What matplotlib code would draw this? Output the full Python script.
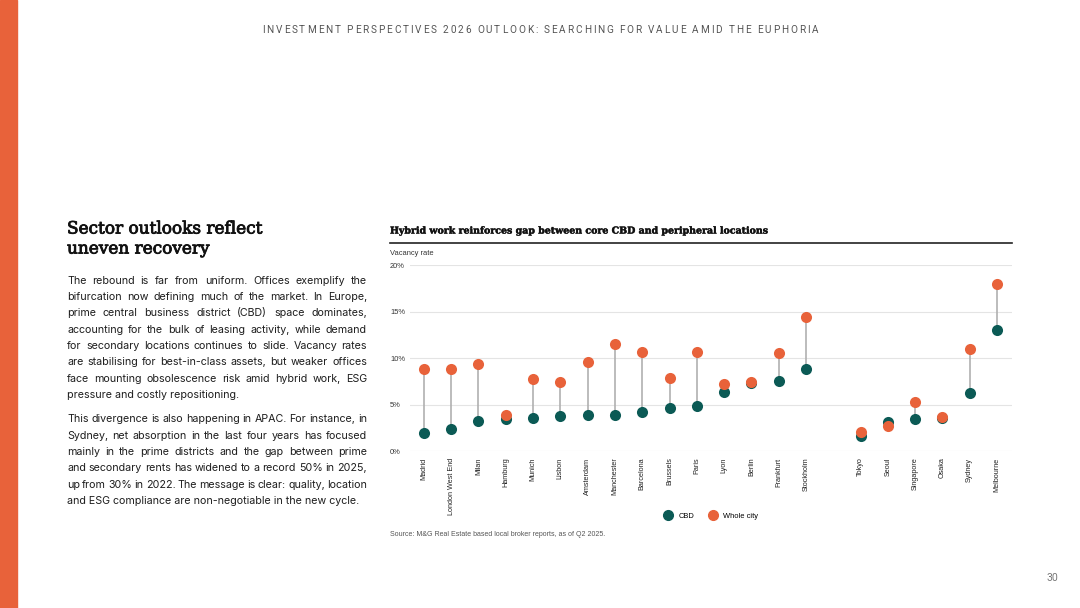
import numpy as np
import matplotlib.pyplot as plt
import matplotlib.patheffects as pe
from matplotlib.font_manager import FontProperties
from matplotlib.patches import Rectangle
from matplotlib.lines import Line2D

# vacancy rates (%)
europe = ["Madrid", "London West End", "Milan", "Hamburg", "Munich", "Lisbon",
          "Amsterdam", "Manchester", "Barcelona", "Brussels", "Paris", "Lyon",
          "Berlin", "Frankfurt", "Stockholm"]
cbd_europe = [2.0, 2.4, 3.3, 3.5, 3.6, 3.8, 3.9, 3.9, 4.2, 4.7, 4.9, 6.4, 7.3, 7.6, 8.9]
city_europe = [8.8, 8.8, 9.4, 3.9, 7.8, 7.4, 9.6, 11.5, 10.7, 7.9, 10.7, 7.2, 7.4, 10.6, 14.4]

apac = ["Tokyo", "Seoul", "Singapore", "Osaka", "Sydney", "Melbourne"]
cbd_apac = [1.6, 3.2, 3.5, 3.6, 6.3, 13.0]
city_apac = [2.1, 2.7, 5.3, 3.7, 11.0, 18.0]

yticks = [0, 5, 10, 15, 20]

TEAL = "#0b5a55"
ORANGE = "#e8623a"
W, H = 1080, 608

fig = plt.figure(figsize=(10.8, 6.08), dpi=100)
fig.patch.set_facecolor("white")
renderer = fig.canvas.get_renderer()


def fx(x):
    return x / W


def fy(y):
    return 1 - y / H


def text_w(s, fp):
    w, h, d = renderer.get_text_width_height_descent(s, fp, ismath=False)
    return w


def fit_size(s, fp, width):
    # pick the font size that makes s span the given pixel width
    fp = fp.copy()
    fp.set_size(10)
    return 10 * width / text_w(s, fp)


# orange page strip
fig.patches.append(Rectangle((0, 0), fx(17), 1, transform=fig.transFigure,
                             color=ORANGE, zorder=0))

# running header with letter spacing
header = "INVESTMENT PERSPECTIVES 2026 OUTLOOK: SEARCHING FOR VALUE AMID THE EUPHORIA"
hfp = FontProperties(family="Roboto", size=7.2)
widths = [text_w(c, hfp) if c != " " else text_w("a a", hfp) - text_w("aa", hfp)
          for c in header]
track = (556 - sum(widths)) / (len(header) - 1)
x = 262
for c, w in zip(header, widths):
    if c != " ":
        fig.text(fx(x), fy(30), c, fontproperties=hfp, color="#555555",
                 va="center", ha="left")
    x += w + track

# left column title
tfp = FontProperties(family="DejaVu Serif")
tfp.set_size(fit_size("Sector outlooks reflect", tfp, 196))
heavy = [pe.withStroke(linewidth=0.6, foreground="#111111")]
fig.text(fx(67), fy(229), "Sector outlooks reflect", fontproperties=tfp,
         color="#111111", va="center", path_effects=heavy)
fig.text(fx(67), fy(249), "uneven recovery", fontproperties=tfp,
         color="#111111", va="center", path_effects=heavy)

para1 = ["The rebound is far from uniform. Offices exemplify the",
         "bifurcation now defining much of the market. In Europe,",
         "prime central business district (CBD) space dominates,",
         "accounting for the bulk of leasing activity, while demand",
         "for secondary locations continues to slide. Vacancy rates",
         "are stabilising for best-in-class assets, but weaker offices",
         "face mounting obsolescence risk amid hybrid work, ESG",
         "pressure and costly repositioning."]
para2 = ["This divergence is also happening in APAC. For instance, in",
         "Sydney, net absorption in the last four years has focused",
         "mainly in the prime districts and the gap between prime",
         "and secondary rents has widened to a record 50% in 2025,",
         "up from 30% in 2022. The message is clear: quality, location",
         "and ESG compliance are non-negotiable in the new cycle."]

bfp = FontProperties(family="Inter", size=7.7)
left, right = 67, 367


def draw_para(lines, y0, step=16.3):
    for i, line in enumerate(lines):
        y = y0 + i * step
        words = line.split(" ")
        if i == len(lines) - 1:
            fig.text(fx(left), fy(y), line, fontproperties=bfp, color="#1e1e1e",
                     va="center", ha="left")
            continue
        ws = [text_w(wd, bfp) for wd in words]
        gap = (right - left - sum(ws)) / (len(words) - 1)
        x = left
        for wd, w in zip(words, ws):
            fig.text(fx(x), fy(y), wd, fontproperties=bfp, color="#1e1e1e",
                     va="center", ha="left")
            x += w + gap


draw_para(para1, 280.7)
draw_para(para2, 419.3)

# chart header
chart_title = "Hybrid work reinforces gap between core CBD and peripheral locations"
cfp = FontProperties(family="DejaVu Serif", weight="bold")
cfp.set_size(fit_size(chart_title, cfp, 379))
fig.text(fx(390), fy(231), chart_title, fontproperties=cfp, color="#111111",
         va="center", path_effects=[pe.withStroke(linewidth=0.3, foreground="#111111")])
fig.add_artist(Line2D([fx(390), fx(1012)], [fy(243), fy(243)],
                      transform=fig.transFigure, color="#222222", lw=1.2))
sfp = FontProperties(family="Liberation Sans", size=5.4)
xfp = FontProperties(family="Liberation Sans", size=5.2)
srcfp = FontProperties(family="Liberation Sans", size=5.0)
fig.text(fx(390), fy(253), "Vacancy rate", fontproperties=sfp, color="#333333", va="center")

# dumbbell chart
ax = fig.add_axes([fx(410), fy(451.3), fx(1012 - 410), (451.3 - 265.3) / H])
pos = np.r_[np.arange(len(europe)), np.arange(len(apac)) + len(europe) + 1]
labels = europe + apac
cbd = np.array(cbd_europe + cbd_apac)
city = np.array(city_europe + city_apac)

ax.vlines(pos, np.minimum(cbd, city), np.maximum(cbd, city), color="#b0b0b0",
          lw=1.2, zorder=2)
ax.scatter(pos, cbd, s=64, color=TEAL, zorder=3, clip_on=False, linewidths=0)
ax.scatter(pos, city, s=64, color=ORANGE, zorder=4, clip_on=False, linewidths=0)

ax.set_xlim(-0.51, 21.55)
ax.set_ylim(0, 20)
ax.set_yticks(yticks)
ax.set_yticklabels([f"{t}%" for t in yticks], fontproperties=sfp, color="#333333",
                   ha="left")
ax.tick_params(axis="y", length=0, pad=14.4)
ax.set_xticks(pos)
ax.set_xticklabels(labels, rotation=90, fontproperties=xfp, color="#222222",
                   va="top", ha="center")
ax.tick_params(axis="x", length=0, pad=4.5)
ax.grid(axis="y", color="#e4e4e4", lw=0.8)
ax.set_axisbelow(True)
for s in ax.spines.values():
    s.set_visible(False)

handles = [Line2D([], [], marker="o", ls="", color=TEAL, markersize=7),
           Line2D([], [], marker="o", ls="", color=ORANGE, markersize=7)]
fig.legend(handles, ["CBD", "Whole city"], loc="center left",
           bbox_to_anchor=(fx(664), fy(516)), ncol=2, frameon=False,
           prop=sfp, handletextpad=0.9, columnspacing=2.0, handlelength=1.0,
           borderpad=0, borderaxespad=0)

fig.text(fx(390), fy(534), "Source: M&G Real Estate based local broker reports, as of Q2 2025.",
         fontproperties=srcfp, color="#555555", va="center")
fig.text(fx(1058), fy(578), "30", fontproperties=FontProperties(family="Roboto", size=7.5),
         color="#777777", va="center", ha="right")

fig.savefig("out.png", dpi=100)
